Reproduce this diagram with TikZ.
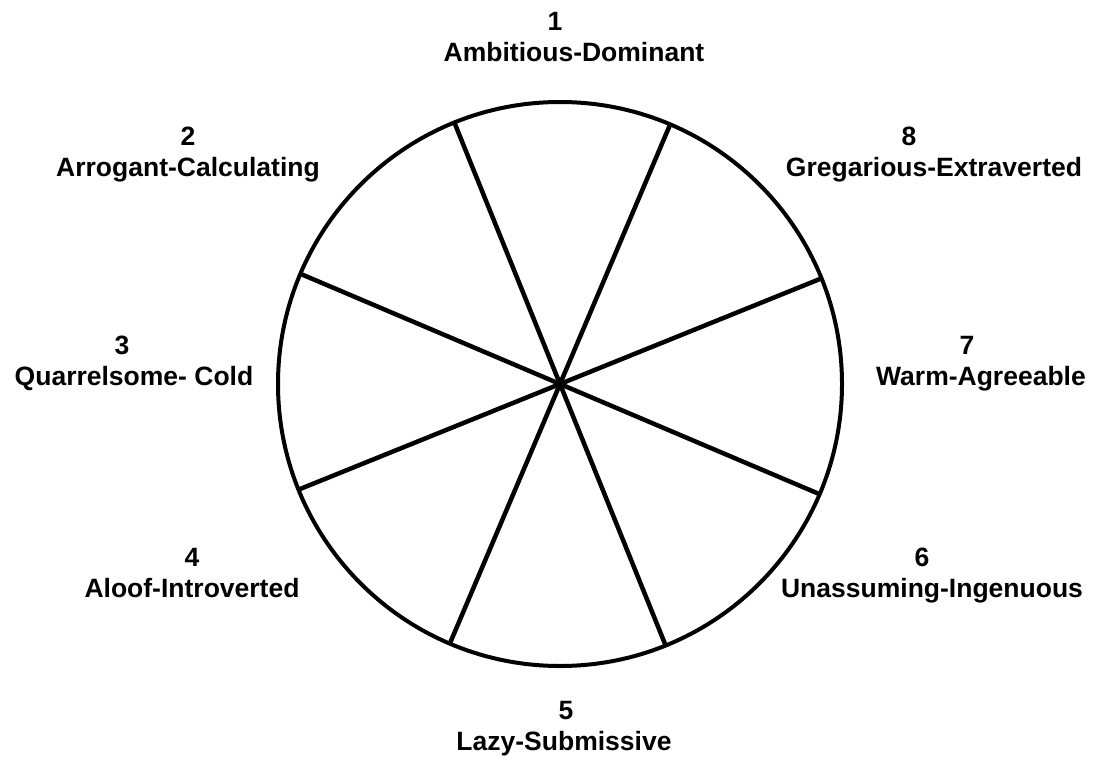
\documentclass[tikz,border=0pt]{standalone}
\usepackage{fontspec}
\setmainfont{Liberation Sans}
\begin{document}
\begin{tikzpicture}[x=1pt,y=-1pt,
  lab/.style={inner sep=0pt,anchor=base,font=\fontsize{26.5}{31}\selectfont\bfseries},
  wheelstyle/.style={circle,draw,line width=4pt,inner sep=0pt,outer sep=0pt,minimum size=564pt},
  spoke/.style={line width=4.5pt}]
\useasboundingbox (0,0) rectangle (1102,767);
\coordinate (c) at (560,384);
\node[wheelstyle] (wheel) at (c) {};
\draw[spoke] (wheel.22.5) -- (wheel.202.5);
\draw[spoke] (wheel.67.5) -- (wheel.247.5);
\draw[spoke] (wheel.112.5) -- (wheel.292.5);
\draw[spoke] (wheel.157.5) -- (wheel.337.5);
% labels
\node[lab] (n1) at (555,31) {1};
\node[lab] (t1) at (574,62) {Ambitious-Dominant};
\node[lab] (n2) at (188,146) {2};
\node[lab] (t2) at (188,177) {Arrogant-Calculating};
\node[lab] (n3) at (122,354) {3};
\node[lab] (t3) at (134,385) {Quarrelsome- Cold};
\node[lab] (n4) at (192,566) {4};
\node[lab] (t4) at (192,597) {Aloof-Introverted};
\node[lab] (n5) at (566,719) {5};
\node[lab] (t5) at (564,750) {Lazy-Submissive};
\node[lab] (n6) at (922,566) {6};
\node[lab] (t6) at (932,597) {Unassuming-Ingenuous};
\node[lab] (n7) at (967,354) {7};
\node[lab] (t7) at (981,385) {Warm-Agreeable};
\node[lab] (n8) at (909,146) {8};
\node[lab] (t8) at (934,177) {Gregarious-Extraverted};
\end{tikzpicture}
\end{document}
